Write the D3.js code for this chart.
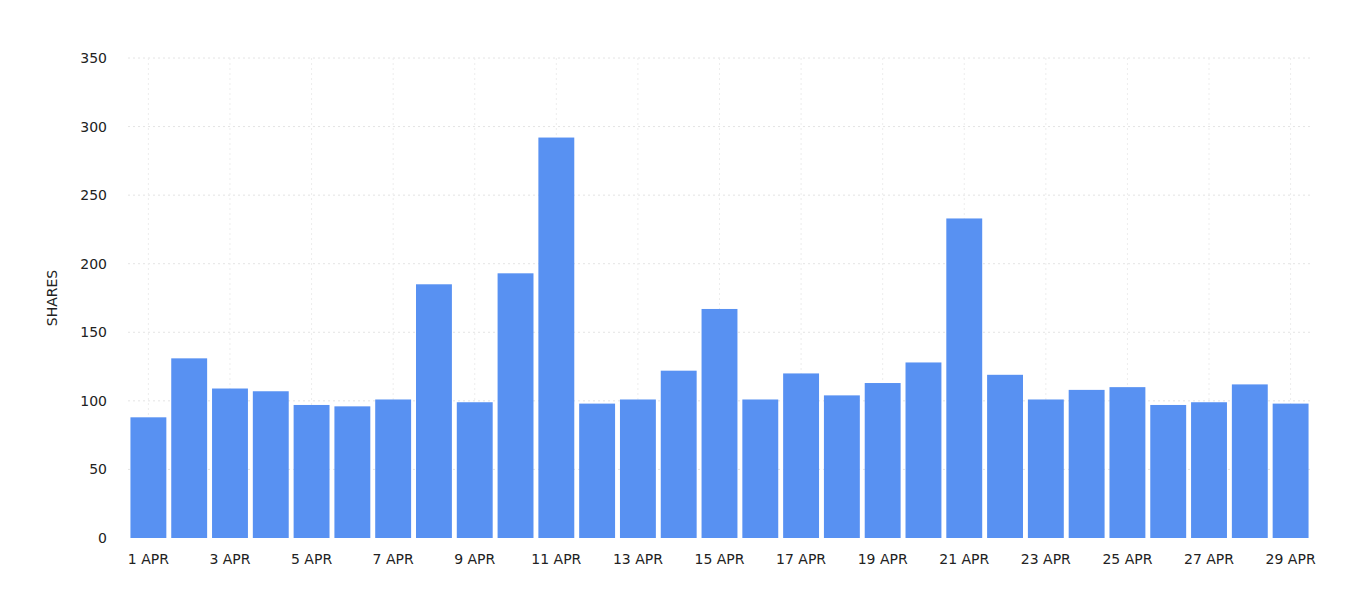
<!DOCTYPE html>
<html lang="en">
<head>
<meta charset="UTF-8">
<title>Shares</title>
<script src="https://d3js.org/d3.v7.min.js"></script>
<style>
  body { margin: 0; background: #fff; }
  text { font-family: "DejaVu Sans", sans-serif; }
</style>
</head>
<body>
<script>
    var days = d3.range(1, 30).map(function (d) { return d + " APR"; });
    var shares = [88, 131, 109, 107, 97, 96, 101, 185, 99, 193, 292, 98, 101, 122, 167,
                  101, 120, 104, 113, 128, 233, 119, 101, 108, 110, 97, 99, 112, 98];
    var yTicks = [0, 50, 100, 150, 200, 250, 300, 350];

    var w = 1354, h = 600;
    var plotLeft = 128, plotRight = 1311, plotTop = 58, plotBottom = 538;

    var svg = d3.select("body").append("svg")
        .attr("width", w)
        .attr("height", h);

    var x = d3.scaleBand().domain(days).range([plotLeft, plotRight]).paddingInner(0.12).paddingOuter(0.06);
    var y = d3.scaleLinear().domain([0, 350]).range([plotBottom, plotTop]);
    var labelDays = days.filter(function (d, i) { return i % 2 == 0; });

    // grid
    svg.selectAll(".hgrid").data(yTicks.slice(1)).enter().append("line")
        .attr("x1", plotLeft).attr("x2", plotRight)
        .attr("y1", function (d) { return y(d); }).attr("y2", function (d) { return y(d); })
        .attr("stroke", "#e4e4e4").attr("stroke-dasharray", "2,3");
    svg.selectAll(".vgrid").data(labelDays).enter().append("line")
        .attr("x1", function (d) { return x(d) + x.bandwidth() / 2; })
        .attr("x2", function (d) { return x(d) + x.bandwidth() / 2; })
        .attr("y1", plotTop).attr("y2", plotBottom)
        .attr("stroke", "#ededed").attr("stroke-dasharray", "2,3");

    svg.selectAll("rect").data(shares).enter().append("rect")
        .attr("x", function (d, i) { return x(days[i]); })
        .attr("y", function (d) { return y(d); })
        .attr("width", x.bandwidth())
        .attr("height", function (d) { return plotBottom - y(d); })
        .attr("fill", "#5891f2");

    svg.selectAll(".ylab").data(yTicks).enter().append("text")
        .attr("x", 107).attr("y", function (d) { return y(d) + 5; })
        .attr("text-anchor", "end").attr("font-size", 14).attr("fill", "#222")
        .text(function (d) { return d; });

    svg.selectAll(".xlab").data(labelDays).enter().append("text")
        .attr("x", function (d) { return x(d) + x.bandwidth() / 2; })
        .attr("y", 564)
        .attr("text-anchor", "middle").attr("font-size", 14).attr("fill", "#222")
        .text(function (d) { return d; });

    svg.append("text")
        .attr("transform", "translate(57," + ((plotTop + plotBottom) / 2) + ") rotate(-90)")
        .attr("text-anchor", "middle").attr("font-size", 14).attr("fill", "#222")
        .text("SHARES");
</script>
</body>
</html>
